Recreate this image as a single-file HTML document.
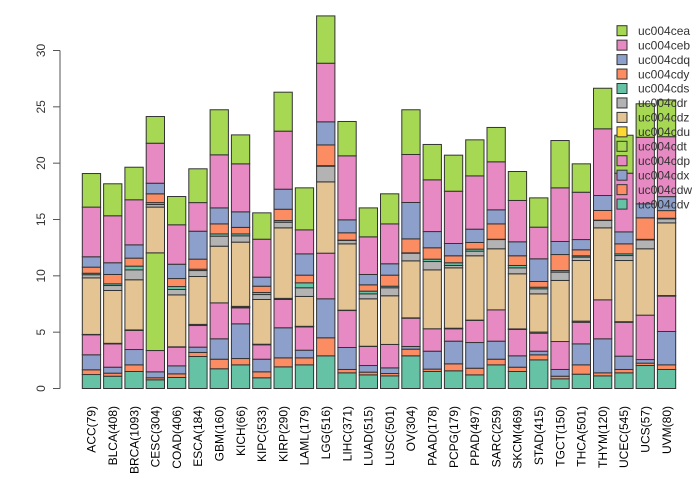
<!DOCTYPE html>
<html><head><meta charset="utf-8"><style>
html,body{margin:0;padding:0;background:#fff;}
svg{display:block;font-family:"Liberation Sans",sans-serif;}
</style></head><body>
<svg id="chart" width="700" height="480" viewBox="0 0 700 480" xmlns="http://www.w3.org/2000/svg"></svg>
<script>
const categories = ["ACC(79)","BLCA(408)","BRCA(1093)","CESC(304)","COAD(406)","ESCA(184)","GBM(160)","KICH(66)","KIPC(533)","KIRP(290)","LAML(179)","LGG(516)","LIHC(371)","LUAD(515)","LUSC(501)","OV(304)","PAAD(178)","PCPG(179)","PPAD(497)","SARC(259)","SKCM(469)","STAD(415)","TGCT(150)","THCA(501)","THYM(120)","UCEC(545)","UCS(57)","UVM(80)"];
const seriesNames = ["uc004cdv","uc004cdw","uc004cdx","uc004cdp","uc004cdt","uc004cdu","uc004cdz","uc004cdr","uc004cds","uc004cdy","uc004cdq","uc004ceb","uc004cea"];
const cdv = [1.24,1.09,1.51,0.77,0.98,2.84,1.75,2.1,0.95,1.92,2.1,2.9,1.39,1.21,1.12,2.9,1.51,1.57,1.21,2.1,1.51,2.54,0.86,1.27,1.12,1.39,2.04,1.69];
const cdw = [0.42,0.27,0.59,0.18,0.32,0.36,0.85,0.56,0.53,0.8,0.62,1.6,0.3,0.24,0.21,0.59,0.21,0.62,0.59,0.5,0.38,0.45,0.23,0.83,0.27,0.3,0.21,0.41];
const cdx = [1.33,0.53,1.36,0.53,0.71,0.47,1.81,3.08,1.12,2.67,0.68,3.46,1.95,0.59,0.5,0.24,1.59,2.01,2.28,1.6,1.01,0.32,0.6,1.86,3.02,1.18,0.32,2.96];
const cdp = [1.78,2.07,1.69,1.89,1.66,1.92,3.19,1.42,1.28,2.51,2.07,4.05,3.28,1.69,2.08,2.51,1.99,1.1,1.96,2.78,2.34,1.6,2.48,1.92,3.46,3.01,3.94,3.14];
const cdt = [0.03,0.05,0.05,8.67,0.03,0.1,0,0.03,0.05,0.1,0.05,0,0.03,0.02,0,0.03,0,0.05,0.03,0,0.05,0.1,0,0.1,0,0.05,0,0.05];
const cdu = [0,0,0,0,0,0,0,0.1,0,0,0,0,0,0,0,0,0,0,0,0,0,0,0,0,0,0,0,0];
const cdz = [5.02,4.69,4.45,4.06,4.61,4.25,5.03,5.7,3.97,6.26,2.65,6.33,5.89,4.21,4.32,5.06,5.23,5.36,5.71,5.42,4.89,3.39,5.42,5.38,6.39,5.43,5.89,6.45];
const cdr = [0.28,0.44,0.88,0.23,0.48,0.53,0.89,0.56,0.44,0.5,0.77,1.39,0.3,0.44,0.71,0.68,0.74,0.21,0.41,0.82,0.53,0.45,0.74,0.3,0.65,0.44,0.79,0.36];
const cds = [0.13,0.15,0.33,0.17,0.26,0.12,0.2,0.17,0.18,0.15,0.44,0.05,0.03,0.24,0.14,0.03,0.21,0.24,0.18,0.03,0.21,0.14,0.14,0.12,0.03,0.15,0.05,0.05];
const cdy = [0.54,0.83,0.71,0.78,0.71,0.89,0.89,0.58,0.56,1.0,0.68,1.84,0.65,0.56,0.98,1.24,1.01,0.62,0.59,1.36,0.86,0.51,1.42,0.53,0.86,0.89,1.91,0.68];
const cdq = [0.92,1.04,1.18,0.94,1.27,2.48,1.42,1.38,0.8,1.78,1.89,2.05,1.15,0.92,1.01,3.23,1.44,1.09,1.18,1.25,1.24,2.01,1.16,0.91,1.33,1.06,1.24,1.24];
const ceb = [4.41,4.17,4.0,3.55,3.5,2.54,4.71,4.26,3.37,5.15,2.13,5.2,5.68,3.34,3.54,4.26,4.59,4.64,4.73,4.26,3.67,2.81,4.76,4.2,5.92,5.21,5.91,5.32];
const cea = [2.98,2.84,2.89,2.37,2.51,3.0,4.0,2.57,2.34,3.46,3.73,4.2,3.05,2.57,2.67,3.97,3.14,3.2,3.2,3.05,2.57,2.6,4.2,2.52,3.6,3.37,2.97,3.26];
const yTicks = [0,5,10,15,20,25,30];

const series = [cdv,cdw,cdx,cdp,cdt,cdu,cdz,cdr,cds,cdy,cdq,ceb,cea];
const colors = ["#66C2A5","#FC8D62","#8DA0CB","#E78AC3","#A6D854","#FFD92F","#E5C494","#B3B3B3","#66C2A5","#FC8D62","#8DA0CB","#E78AC3","#A6D854"];
const NS = "http://www.w3.org/2000/svg";
const svg = document.getElementById("chart");
const y0 = 388.5, pxPerUnit = 338/30;
function yScale(v){ return y0 - v*pxPerUnit; }
function xLeft(i){ return 82.3 + i*21.3; }
const barW = 18.3;
function mk(tag, attrs){ const e=document.createElementNS(NS,tag); for(const k in attrs) e.setAttribute(k,attrs[k]); svg.appendChild(e); return e; }

// bars
categories.forEach((cat,i)=>{
  let cum = 0;
  series.forEach((s,j)=>{
    const v = s[i];
    const top = yScale(cum+v), bot = yScale(cum);
    const r = mk("rect",{x:xLeft(i),y:top,width:barW,height:Math.max(bot-top,0),fill:colors[j],stroke:"#333","stroke-width":1});
    
    
    cum += v;
  });
  const t = mk("text",{x:0,y:0,"font-size":12,fill:"#000","text-anchor":"end",transform:`translate(${xLeft(i)+barW/2+4.2},406) rotate(-90)`});
  t.textContent = cat;
  
  
});

// y axis
const ax = mk("line",{x1:60,x2:60,y1:yScale(0),y2:yScale(30),stroke:"#555","stroke-width":1});


yTicks.forEach(v=>{
  const tk = mk("line",{x1:53,x2:60,y1:yScale(v),y2:yScale(v),stroke:"#555","stroke-width":1});
  
  
  const tl = mk("text",{x:0,y:0,"font-size":12,fill:"#333","text-anchor":"middle",transform:`translate(45,${yScale(v)}) rotate(-90)`});
  tl.textContent = v;
  
  
});

// legend (top to bottom: reverse stacking order)
for(let k=0;k<seriesNames.length;k++){
  const j = seriesNames.length-1-k;
  const cy = 30.7 + k*14.45;
  const b = mk("rect",{x:617,y:cy-5,width:10,height:10,fill:colors[j],stroke:"#333","stroke-width":1});
  
  
  const lt = mk("text",{x:638,y:cy+4.2,"font-size":12,fill:"#333"});
  lt.textContent = seriesNames[j];
  
  
}
</script>
</body></html>
